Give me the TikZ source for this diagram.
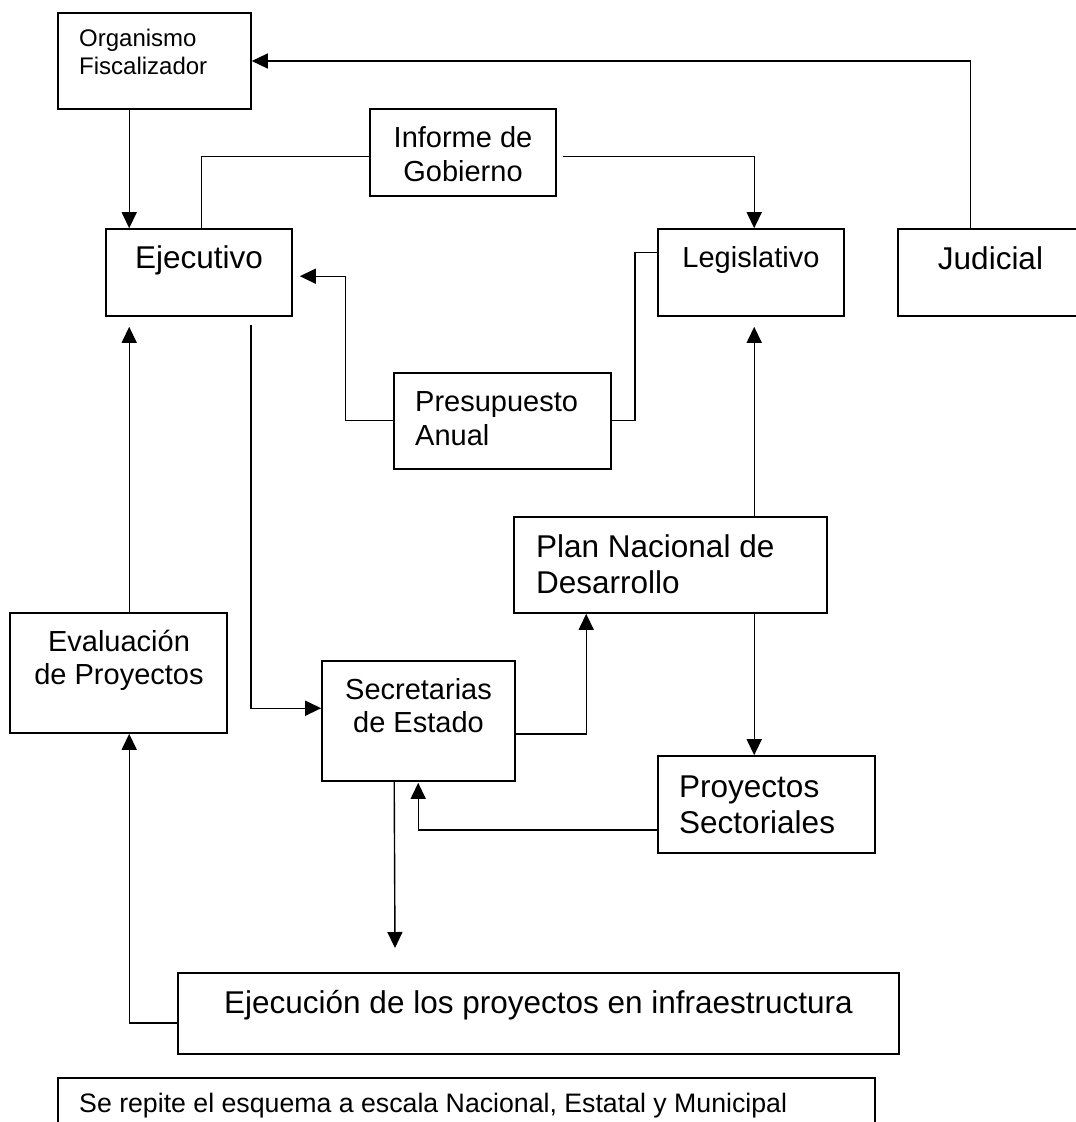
\documentclass[tikz,border=0pt]{standalone}
\usepackage{fontspec}
\setmainfont{Liberation Sans}
\usetikzlibrary{arrows.meta}
\tikzset{
  box/.style={draw, line width=1.6pt, inner sep=0pt},
  arr/.style={line width=1.4pt, -{Triangle[length=16pt,width=15pt]}},
  ln/.style={line width=1.4pt},
  txt/.style={inner sep=0pt, anchor=base},
  txtl/.style={inner sep=0pt, anchor=base west},
  fA/.style={font=\fontsize{24}{28}\selectfont},
  fB/.style={font=\fontsize{29}{34}\selectfont},
  fC/.style={font=\fontsize{31.5}{36}\selectfont},
  fD/.style={font=\fontsize{26.7}{31}\selectfont},
}
\begin{document}
\begin{tikzpicture}[x=1pt,y=-1pt]
\clip (0,0) rectangle (1076,1122);
\fill[white] (0,0) rectangle (1076,1122);

% boxes
\node[box, minimum width=193pt, minimum height=96pt] (org) at (154.5,61) {};
\node[box, minimum width=186pt, minimum height=87pt] (inf) at (463,152.5) {};
\node[box, minimum width=186pt, minimum height=87pt] (ejec) at (199,272.5) {};
\node[box, minimum width=186pt, minimum height=87pt] (leg) at (751,272.5) {};
\node[box, minimum width=185pt, minimum height=87pt] (jud) at (990.5,272.5) {};
\node[box, minimum width=217pt, minimum height=96pt] (pres) at (502.5,421) {};
\node[box, minimum width=313pt, minimum height=96pt] (plan) at (670.5,565) {};
\node[box, minimum width=217pt, minimum height=120pt] (eval) at (118.5,673) {};
\node[box, minimum width=193pt, minimum height=120pt] (sec) at (418.5,721) {};
\node[box, minimum width=217pt, minimum height=97pt] (proy) at (766.5,804.5) {};
\node[box, minimum width=721pt, minimum height=81pt] (ejecu) at (538.5,1013.5) {};
\node[box, minimum width=817pt, minimum height=92pt] (serep) at (466.5,1124) {};

% texts
\node[txtl, fA] (orgT1) at (79,46) {Organismo};
\node[txtl, fA] (orgT2) at (79,74) {Fiscalizador};
\node[txt, fB] (infT1) at (463,147) {Informe de};
\node[txt, fB] (infT2) at (463,181) {Gobierno};
\node[txt, fC] (ejecT) at (199,268) {Ejecutivo};
\node[txt, fB] (legT) at (751,267) {Legislativo};
\node[txt, fC] (judT) at (990.5,269) {Judicial};
\node[txtl, fB] (presT1) at (415,411) {Presupuesto};
\node[txtl, fB] (presT2) at (415,445) {Anual};
\node[txtl, fC] (planT1) at (536,557) {Plan Nacional de};
\node[txtl, fC] (planT2) at (536,593) {Desarrollo};
\node[txt, fB] (evalT1) at (119,651) {Evaluación};
\node[txt, fB] (evalT2) at (119,684) {de Proyectos};
\node[txt, fB] (secT1) at (418.5,699) {Secretarias};
\node[txt, fB] (secT2) at (418.5,732) {de Estado};
\node[txtl, fC] (proyT1) at (679,797) {Proyectos};
\node[txtl, fC] (proyT2) at (679,833) {Sectoriales};
\node[txt, fC] (ejecuT) at (538.5,1013) {Ejecución de los proyectos en infraestructura};
\node[txtl, fD] (serepT) at (79,1112) {Se repite el esquema a escala Nacional, Estatal y Municipal};

% connectors
\draw[arr] ([xshift=73pt]jud.north west) |- (org.east);
\draw[arr] ([xshift=72pt]org.south west) -- ([xshift=24pt]ejec.north west);
\draw[ln] ([yshift=-48pt]inf.north west) -| ([xshift=96pt]ejec.north west);
\draw[arr] ([xshift=6pt,yshift=-48pt]inf.north east) -| ([xshift=97pt]leg.north west);
\draw[arr] ([yshift=-48pt]pres.north west) -- ++(-48,0) |- ([xshift=7pt,yshift=-48pt]ejec.north east);
\draw[ln] ([yshift=-48pt]pres.north east) -- ++(23,0) |- ([yshift=-24pt]leg.north west);
\draw[arr] ([xshift=-42pt,yshift=-8pt]ejec.south east) |- ([yshift=-48pt]sec.north west);
\draw[arr] ([xshift=241pt]plan.north west) -- ([xshift=97pt,yshift=-10pt]leg.south west);
\draw[arr] ([xshift=241pt]plan.south west) -- ([xshift=97pt]proy.north west);
\draw[arr] ([yshift=48pt]sec.south east) -| ([xshift=73pt]plan.south west);
\draw[arr] ([yshift=24pt]proy.south west) -| ([xshift=97pt,yshift=-1pt]sec.south west);
\coordinate (secend) at (395,948);
\draw[arr] ([xshift=73pt]sec.south west) -- (secend);
\draw[arr] ([yshift=32pt]ejecu.south west) -| ([xshift=120pt]eval.south west);
\draw[arr] ([xshift=120pt]eval.north west) -- ([xshift=24pt,yshift=-10pt]ejec.south west);
\end{tikzpicture}
\end{document}
